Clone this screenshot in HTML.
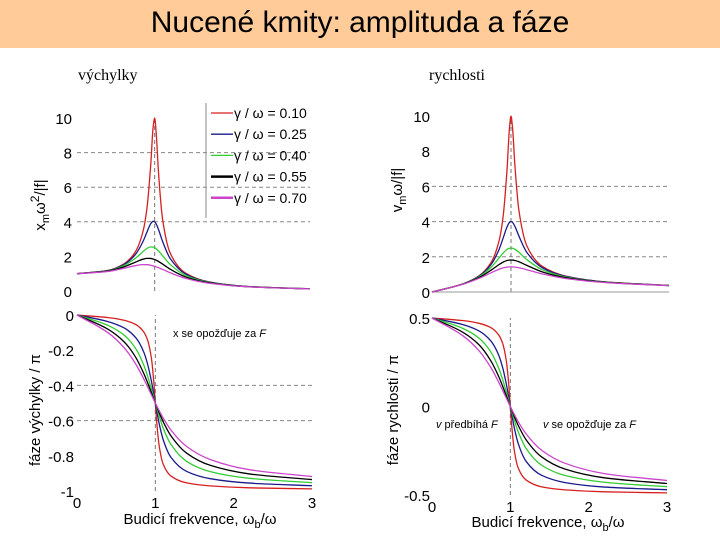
<!DOCTYPE html>
<html><head><meta charset="utf-8">
<style>
html,body{margin:0;padding:0;background:#fff;}
body{width:720px;height:540px;overflow:hidden;position:relative;font-family:"Liberation Sans",sans-serif;}
#title{position:absolute;left:0;top:0;width:720px;height:48px;background:#FFCC99;}
#title span{position:absolute;left:0;width:720px;text-align:center;top:6px;font-size:30px;color:#000;}
svg{position:absolute;left:0;top:0;}
</style></head>
<body>
<div id="title"><span>Nucené kmity: amplituda a fáze</span></div>
<svg id="chart" width="720" height="540"></svg>
<script>
const xs = [0,0.4,0.6,0.75,0.85,0.9,0.95,0.98,1,1.02,1.05,1.1,1.2,1.4,1.7,2.2,3];
const gammaLabels = ["0.10","0.25","0.40","0.55","0.70"];
const colors = ["#d62020","#1a1a8c","#33cc33","#000000","#cc44cc"];
const ampG10 = [1,1.189,1.556,2.253,3.446,4.757,7.34,9.46,10,9.11,6.81,4.22,2.193,1.031,0.527,0.260,0.125];
const ampG25 = [1,1.182,1.521,2.101,2.861,3.396,3.895,4.029,4,3.873,3.548,2.890,1.878,0.979,0.516,0.258,0.124];
const ampG40 = [1,1.169,1.463,1.885,2.279,2.457,2.549,2.538,2.5,2.439,2.313,2.051,1.536,0.900,0.498,0.254,0.124];
const ampG55 = [1,1.152,1.389,1.663,1.839,1.886,1.881,1.850,1.818,1.778,1.705,1.562,1.261,0.813,0.474,0.248,0.122];
const ampG70 = [1,1.129,1.306,1.463,1.523,1.520,1.488,1.455,1.429,1.398,1.348,1.253,1.055,0.729,0.448,0.242,0.121];
const velG10 = [0,0.476,0.934,1.690,2.929,4.281,6.97,9.27,10,9.29,7.15,4.64,2.63,1.443,0.896,0.572,0.375];
const velG25 = [0,0.473,0.913,1.576,2.432,3.056,3.700,3.948,4,3.950,3.725,3.179,2.254,1.371,0.877,0.568,0.372];
const velG40 = [0,0.468,0.878,1.414,1.937,2.211,2.422,2.487,2.5,2.488,2.429,2.256,1.843,1.260,0.847,0.559,0.372];
const velG55 = [0,0.461,0.833,1.247,1.563,1.697,1.787,1.813,1.818,1.814,1.790,1.718,1.513,1.138,0.806,0.546,0.366];
const velG70 = [0,0.452,0.784,1.097,1.295,1.368,1.414,1.426,1.429,1.426,1.415,1.378,1.266,1.021,0.762,0.532,0.363];
const phxG10 = [0,-0.015,-0.030,-0.054,-0.095,-0.141,-0.246,-0.378,-0.5,-0.620,-0.746,-0.847,-0.915,-0.954,-0.971,-0.982,-0.988];
const phxG25 = [0,-0.038,-0.073,-0.129,-0.208,-0.277,-0.376,-0.449,-0.5,-0.550,-0.619,-0.708,-0.809,-0.889,-0.930,-0.955,-0.970];
const phxG40 = [0,-0.060,-0.114,-0.191,-0.282,-0.345,-0.420,-0.468,-0.5,-0.531,-0.576,-0.642,-0.736,-0.832,-0.890,-0.928,-0.953];
const phxG55 = [0,-0.082,-0.152,-0.241,-0.330,-0.383,-0.441,-0.477,-0.5,-0.523,-0.556,-0.606,-0.687,-0.785,-0.854,-0.903,-0.935];
const phxG70 = [0,-0.102,-0.185,-0.279,-0.361,-0.407,-0.454,-0.482,-0.5,-0.518,-0.544,-0.585,-0.654,-0.747,-0.821,-0.879,-0.918];
const phvG10 = [0.5,0.485,0.470,0.446,0.405,0.359,0.254,0.123,0,-0.120,-0.246,-0.347,-0.415,-0.454,-0.471,-0.482,-0.488];
const phvG25 = [0.5,0.462,0.427,0.371,0.292,0.223,0.124,0.051,0,-0.050,-0.119,-0.208,-0.309,-0.389,-0.430,-0.455,-0.470];
const phvG40 = [0.5,0.440,0.386,0.309,0.218,0.155,0.080,0.032,0,-0.031,-0.076,-0.142,-0.236,-0.332,-0.390,-0.428,-0.453];
const phvG55 = [0.5,0.418,0.349,0.259,0.171,0.117,0.059,0.023,0,-0.023,-0.056,-0.106,-0.187,-0.285,-0.354,-0.403,-0.435];
const phvG70 = [0.5,0.398,0.315,0.221,0.139,0.093,0.046,0.018,0,-0.018,-0.044,-0.085,-0.154,-0.247,-0.321,-0.379,-0.418];
const xTicks = ["0","1","2","3"];
const ampTicks = ["0","2","4","6","8","10"];
const phxTicks = ["0","-0.2","-0.4","-0.6","-0.8","-1"];
const phvTicks = ["0.5","0","-0.5"];

const svg = document.getElementById('chart');
const NS = 'http://www.w3.org/2000/svg';
function mk(tag, attrs, parent){
  const e = document.createElementNS(NS, tag);
  for (const k in attrs) e.setAttribute(k, attrs[k]);
  (parent||svg).appendChild(e);
  return e;
}
function mono(px, py){
  const n = px.length, d = [], m = [];
  for (let i=0;i<n-1;i++) d.push((py[i+1]-py[i])/(px[i+1]-px[i]));
  m[0]=d[0]; m[n-1]=d[n-2];
  for (let i=1;i<n-1;i++){
    if (d[i-1]*d[i]<=0) m[i]=0;
    else { const w1=2*(px[i+1]-px[i])+(px[i]-px[i-1]), w2=(px[i+1]-px[i])+2*(px[i]-px[i-1]); m[i]=(w1+w2)/(w1/d[i-1]+w2/d[i]); }
  }
  let s = 'M'+px[0].toFixed(2)+','+py[0].toFixed(2);
  for (let i=0;i<n-1;i++){
    const h=px[i+1]-px[i];
    s += ' C'+(px[i]+h/3).toFixed(2)+','+(py[i]+m[i]*h/3).toFixed(2)+' '+(px[i+1]-h/3).toFixed(2)+','+(py[i+1]-m[i+1]*h/3).toFixed(2)+' '+px[i+1].toFixed(2)+','+py[i+1].toFixed(2);
  }
  return s;
}
function panel(cfg){
  const g = mk('g', {});
  
  
  const sx = v => cfg.x0 + (cfg.x1-cfg.x0)*v/3;
  const sy = v => cfg.y0 + (cfg.y1-cfg.y0)*(v-cfg.v0)/(cfg.v1-cfg.v0);
  cfg.grid.forEach(v=>{
    const l = mk('line',{x1:cfg.x0,x2:sx(3),y1:sy(v),y2:sy(v),stroke:'#888','stroke-width':1,'stroke-dasharray':'4,3'},g);
    
    
  });
  const vl = mk('line',{x1:sx(1),x2:sx(1),y1:cfg.y1,y2:cfg.y0,stroke:'#777','stroke-width':1,'stroke-dasharray':'4,3'},g);
  
  
  if (cfg.baseline!==undefined){
    const bl = mk('line',{x1:cfg.x0,x2:sx(3),y1:sy(cfg.baseline),y2:sy(cfg.baseline),stroke:'#999','stroke-width':1},g);
    
    
  }
  cfg.series.forEach((arr,i)=>{
    const p = mk('path',{d:mono(xs.map(sx),arr.map(sy)),fill:'none',stroke:colors[i],'stroke-width':1.3},g);
    
    
  });
  cfg.ticks.forEach(t=>{
    const tx = mk('text',{x:cfg.tickX,y:sy(parseFloat(t))+6,'text-anchor':'end','font-size':15,fill:'#000'},g);
    tx.textContent = t;
    
    
  });
  if (cfg.xticks){
    xTicks.forEach((t,i)=>{
      const tx = mk('text',{x:sx(i),y:cfg.xtickY,'text-anchor':'middle','font-size':15,fill:'#000'},g);
      tx.textContent = t;
      
      
    });
  }
}
panel({name:'amplitude-displacement-plot',x0:77,x1:310,y0:118,y1:291,v0:10,v1:0,grid:[4,6,8],series:[ampG10,ampG25,ampG40,ampG55,ampG70],ticks:ampTicks,tickX:72});
panel({name:'amplitude-velocity-plot',x0:432,x1:669,y0:116,y1:292,v0:10,v1:0,grid:[2,4,6],baseline:0,series:[velG10,velG25,velG40,velG55,velG70],ticks:ampTicks,tickX:430});
panel({name:'phase-displacement-plot',x0:77,x1:312,y0:315,y1:491,v0:0,v1:-1,grid:[-0.4,-0.6],series:[phxG10,phxG25,phxG40,phxG55,phxG70],ticks:phxTicks,tickX:74,xticks:true,xtickY:508});
panel({name:'phase-velocity-plot',x0:432,x1:667,y0:318,y1:495,v0:0.5,v1:-0.5,grid:[],series:[phvG10,phvG25,phvG40,phvG55,phvG70],ticks:phvTicks,tickX:430,xticks:true,xtickY:512});

const lg = mk('g',{});


mk('line',{x1:206,x2:206,y1:103,y2:218,stroke:'#888','stroke-width':1},lg);
gammaLabels.forEach((lab,i)=>{
  const y = 113 + i*21.2;
  const e = mk('g',{},lg);
  
  
  mk('line',{x1:211,x2:233,y1:y,y2:y,stroke:colors[i],'stroke-width':i>=3?2.5:1.3},e);
  const t = mk('text',{x:234,y:y+5,'font-size':14,fill:'#000','xml:space':'preserve'},e);
  t.textContent = i===0 ? 'γ / ω = ' + lab : 'γ / ω  = ' + lab;
});

function txt(name, attrs, s){
  const t = mk('text', attrs);
  t.textContent = s;
  
  
  return t;
}
txt('subtitle-displacement',{x:78,y:80,'font-size':16,'font-family':'Liberation Serif, serif'},'výchylky');
txt('subtitle-velocity',{x:429,y:80,'font-size':16,'font-family':'Liberation Serif, serif'},'rychlosti');
const an1 = txt('annotation-x-lags',{x:173,y:337,'font-size':11},'x  se opožďuje za ');
const it1 = mk('tspan',{'font-style':'italic'},an1); it1.textContent='F';
const an2 = txt('annotation-v-leads',{x:436,y:428,'font-size':11,'font-style':'italic'},'v');
const s2 = mk('tspan',{'font-style':'normal'},an2); s2.textContent=' předbíhá ';
const s2b = mk('tspan',{'font-style':'italic'},an2); s2b.textContent='F';
const an3 = txt('annotation-v-lags',{x:543,y:428,'font-size':11,'font-style':'italic'},'v');
const s3 = mk('tspan',{'font-style':'normal'},an3); s3.textContent=' se opožďuje za ';
const s3b = mk('tspan',{'font-style':'italic'},an3); s3b.textContent='F';

const ya1 = txt('y-axis-title-amplitude',{x:0,y:0,'font-size':15,transform:'translate(45,205) rotate(-90)','text-anchor':'middle'},'x');
const a1 = mk('tspan',{'font-size':11,dy:4},ya1); a1.textContent='m';
const a2 = mk('tspan',{dy:-4},ya1); a2.textContent='ω';
const a3 = mk('tspan',{'font-size':12,dy:-6},ya1); a3.textContent='2';
const a4 = mk('tspan',{dy:6},ya1); a4.textContent='/|f|';
const ya2 = txt('y-axis-title-velocity',{x:0,y:0,'font-size':15,transform:'translate(402,190) rotate(-90)','text-anchor':'middle'},'v');
const b1 = mk('tspan',{'font-size':11,dy:4},ya2); b1.textContent='m';
const b2 = mk('tspan',{dy:-4},ya2); b2.textContent='ω/|f|';
txt('y-axis-title-phase-x',{x:0,y:0,'font-size':15,transform:'translate(40,410) rotate(-90)','text-anchor':'middle'},'fáze výchylky / π');
txt('y-axis-title-phase-v',{x:0,y:0,'font-size':15,transform:'translate(398,410) rotate(-90)','text-anchor':'middle'},'fáze rychlosti / π');
const xa1 = txt('x-axis-title-left',{x:200,y:524,'font-size':15,'text-anchor':'middle'},'Budicí frekvence, ω');
const c1 = mk('tspan',{'font-size':11,dy:4},xa1); c1.textContent='b';
const c2 = mk('tspan',{dy:-4},xa1); c2.textContent='/ω';
const xa2 = txt('x-axis-title-right',{x:548,y:527,'font-size':15,'text-anchor':'middle'},'Budicí frekvence, ω');
const d1 = mk('tspan',{'font-size':11,dy:4},xa2); d1.textContent='b';
const d2 = mk('tspan',{dy:-4},xa2); d2.textContent='/ω';
</script>
</body></html>
